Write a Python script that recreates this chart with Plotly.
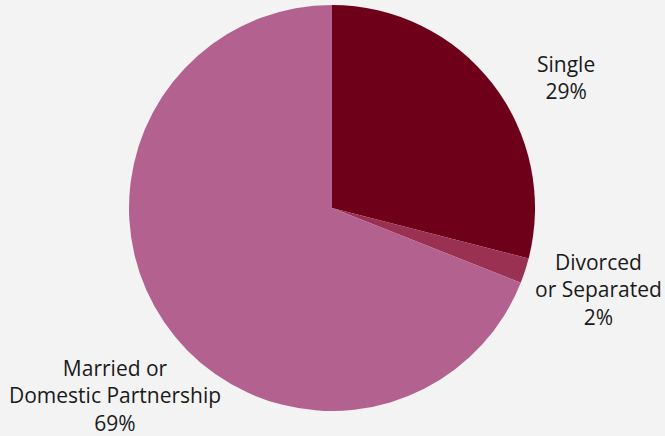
import plotly.graph_objects as go

categories = ["Single", "Divorced<br>or Separated", "Married or<br>Domestic Partnership"]
values = [29, 2, 69]
colors = ["#6e0019", "#9b3152", "#b36290"]

# label anchor points (pixel centres) for each slice
W, H = 665, 436
label_px = [(566, 77), (598, 289), (115, 395)]

total = sum(values)
fig = go.Figure(
    go.Pie(
        labels=categories,
        values=values,
        marker=dict(colors=colors, line=dict(width=0)),
        sort=False,
        direction="clockwise",
        rotation=0,
        textinfo="none",
        hoverinfo="label+percent",
        showlegend=False,
        domain=dict(x=[129 / W, 535 / W], y=[25 / H, 431 / H]),
    )
)

for cat, val, (px, py) in zip(categories, values, label_px):
    fig.add_annotation(
        x=px / W, y=1 - py / H, xref="paper", yref="paper",
        xanchor="center", yanchor="middle",
        text=f"{cat}<br>{round(100 * val / total)}%",
        showarrow=False, align="center",
        font=dict(family="Open Sans", size=21, color="#1a1a1a"),
    )

fig.update_layout(
    width=W, height=H,
    margin=dict(l=0, r=0, t=0, b=0),
    paper_bgcolor="#f3f3f3",
    plot_bgcolor="#f3f3f3",
)

fig.write_html("out.html")
